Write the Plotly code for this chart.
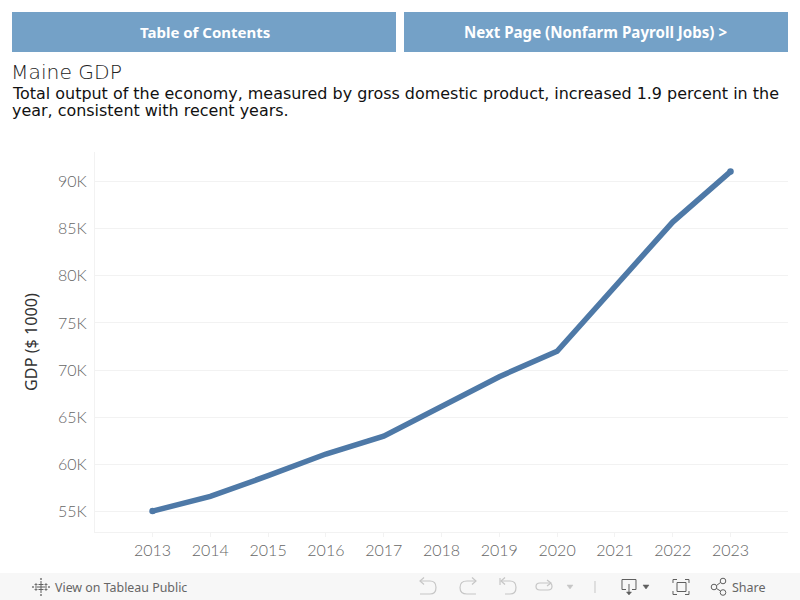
import re
import plotly.graph_objects as go

years = [2013, 2014, 2015, 2016, 2017, 2018, 2019, 2020, 2021, 2022, 2023]
gdp = [55050, 56600, 58800, 61100, 63000, 66200, 69300, 72000, 78900, 85700, 91050]
y_ticks = [55000, 60000, 65000, 70000, 75000, 80000, 85000, 90000]
y_labels = ["55K", "60K", "65K", "70K", "75K", "80K", "85K", "90K"]
title = "Maine GDP"
subtitle_1 = "Total output of the economy, measured by gross domestic product, increased 1.9 percent in the"
subtitle_2 = "year, consistent with recent years."
button_left = "Table of Contents"
button_right = "Next Page (Nonfarm Payroll Jobs) >"

W, H = 800, 600
L, T, PW, PH = 95, 152, 693, 380
GRID = "#f2f2f2"
DIM = "#c6c6c6"
ICON = "#5f5f5f"


def fx(x):
    return (x - L) / PW


def fy(y):
    return (T + PH - y) / PH


def box(x0, y0, x1, y1, fill=None, line=None, width=1):
    return dict(type="rect", xref="paper", yref="paper", layer="below",
                x0=fx(x0), x1=fx(x1), y0=fy(y1), y1=fy(y0),
                fillcolor=fill, line=dict(color=line, width=width if line else 0))


def circle(cx, cy, r, color=ICON):
    return dict(type="circle", xref="paper", yref="paper",
                x0=fx(cx - r), x1=fx(cx + r), y0=fy(cy + r), y1=fy(cy - r),
                line=dict(color=color, width=1))


def path(d, color=DIM, width=1.2, fill=None):
    """d: SVG-like path, absolute commands, written in page pixels."""
    toks = re.findall(r"[MLQZ]|-?\d+\.?\d*", d)
    out, is_x = [], True
    for t in toks:
        if t in "MLQZ":
            out.append(t)
            is_x = True
        else:
            v = float(t)
            out.append(f"{fx(v):.5f}" if is_x else f"{fy(v):.5f}")
            is_x = not is_x
    return dict(type="path", xref="paper", yref="paper", path=" ".join(out),
                fillcolor=fill, line=dict(color=color, width=width))


def text(x, y, s, size, color, family, anchor="left"):
    shift = -2 if anchor == "left" else 0
    return dict(xref="paper", yref="paper", x=fx(x), y=fy(y), xshift=shift,
                text=s, showarrow=False, xanchor=anchor, yanchor="middle", align="left",
                font=dict(size=size, color=color, family=family))


end_caps = [6.5 if i in (0, len(years) - 1) else 0 for i in range(len(years))]
fig = go.Figure(go.Scatter(x=years, y=gdp, mode="lines+markers",
                           line=dict(color="#4e79a7", width=5.5),
                           marker=dict(color="#4e79a7", size=end_caps, opacity=1,
                                       line=dict(width=0)),
                           hoverinfo="x+y"))

shapes = [
    box(12, 12, 396, 52, fill="#74a1c7"),
    box(404, 12, 788, 52, fill="#74a1c7"),
    box(0, 573, 800, 600, fill="#f7f7f7"),
    # undo
    path("M420 581 L430 581 Q436 581 436 587.5 Q436 594 430 594 L420 594"),
    path("M424 577.5 L420 581 L424 584.5"),
    # redo
    path("M476 581 L467 581 Q460 581 460 587.5 Q460 594 467 594 L476 594"),
    path("M472 577.5 L476 581 L472 584.5"),
    # revert
    path("M500 578 L500 585"),
    path("M501 581 L510 581 Q516 581 516 587.5 Q516 594 510 594 L505 594"),
    path("M505 577.5 L501 581 L505 584.5"),
    # refresh
    path("M549 583 L540 583 Q536 583 536 586.5 Q536 590 540 590 L548 590 Q552 590 552 586.5 Q552 583 549 583"),
    path("M547 580 L551 583 L547 586"),
    path("M567 585 L573 585 L570 589 Z", color=DIM, width=0.5, fill=DIM),
    # separator
    path("M595 581 L595 593", color=DIM, width=1),
    # download
    path("M622 579.5 L636 579.5 L636 589.5 L632 589.5 M626 589.5 L622 589.5 L622 579.5", color=ICON, width=1),
    path("M629 584 L629 594", color=ICON, width=1),
    path("M626.5 592 L629 595 L631.5 592 Z", color=ICON, width=0.5, fill=ICON),
    path("M643 585 L649 585 L646 589 Z", color=ICON, width=0.5, fill=ICON),
    # fullscreen
    path("M673 583 L673 579.5 L677 579.5 M685 579.5 L689 579.5 L689 583 M689 591 L689 594.5 L685 594.5 M677 594.5 L673 594.5 L673 591",
         color=ICON, width=1),
    box(677, 582.5, 686, 591.5, line=ICON, width=1),
    # share
    circle(714, 587, 2.8),
    circle(723, 581, 2.8),
    circle(723, 592.5, 2.8),
    path("M716.5 585.5 L720.5 582.5 M716.5 588.5 L720.5 591", color=ICON, width=1),
    # tableau logo
    path("M41 581 L41 593 M35 587 L47 587 M38.5 584.5 L43.5 584.5 M38.5 589.5 L43.5 589.5", color=ICON, width=1),
    path("M36 583 L36 586 M34.5 584.5 L37.5 584.5 M46 583 L46 586 M44.5 584.5 L47.5 584.5", color=ICON, width=0.8),
    path("M36 588 L36 591 M34.5 589.5 L37.5 589.5 M46 588 L46 591 M44.5 589.5 L47.5 589.5", color=ICON, width=0.8),
    path("M41 578 L41 580 M40 579 L42 579 M41 594 L41 596 M40 595 L42 595 M33 586 L33 588 M32 587 L34 587 M49 586 L49 588 M48 587 L50 587",
         color=ICON, width=0.8),
]

annotations = [
    text(204.5, 32, "<b>" + button_left + "</b>", 15, "#ffffff", "Noto Sans", "center"),
    text(595.5, 32, "<b>" + button_right + "</b>", 15.1, "#ffffff", "Noto Sans", "center"),
    text(11, 72, title, 20.3, "#222222", "DejaVu Sans Light, DejaVu Sans"),
    text(12, 94, subtitle_1, 15.95, "#111111", "DejaVu Sans"),
    text(12, 110, subtitle_2, 15.95, "#111111", "DejaVu Sans"),
    text(55, 587, "View on Tableau Public", 12.4, "#666666", "Noto Sans"),
    text(732, 587, "Share", 12.5, "#666666", "Noto Sans"),
]

fig.update_layout(
    width=W, height=H, autosize=False,
    margin=dict(l=L, r=W - L - PW, t=T, b=H - T - PH, pad=0),
    paper_bgcolor="#ffffff", plot_bgcolor="#ffffff",
    showlegend=False, shapes=shapes, annotations=annotations,
    xaxis=dict(range=[2012.005, 2023.995], tickmode="array", tickvals=years,
               ticktext=[str(v) for v in years], showgrid=False, zeroline=False,
               showline=True, linecolor=GRID, linewidth=1,
               ticks="outside", ticklen=4, tickcolor=GRID,
               tickfont=dict(size=16, color="#666666", family="Lato Light, Lato")),
    yaxis=dict(range=[52830, 93130], tickmode="array", tickvals=y_ticks, ticktext=y_labels,
               showgrid=True, gridcolor=GRID, gridwidth=1, zeroline=False,
               showline=True, linecolor=GRID, linewidth=1, ticks="",
               ticklabelstandoff=4,
               tickfont=dict(size=16, color="#666666", family="Lato Light, Lato"),
               title=dict(text="GDP ($ 1000)", standoff=16,
                          font=dict(size=16.2, color="#333333", family="Noto Sans"))),
)

fig.write_html("out.html", config=dict(displayModeBar=False),
               post_script="document.body.style.margin='0';document.body.style.overflow='hidden';")
